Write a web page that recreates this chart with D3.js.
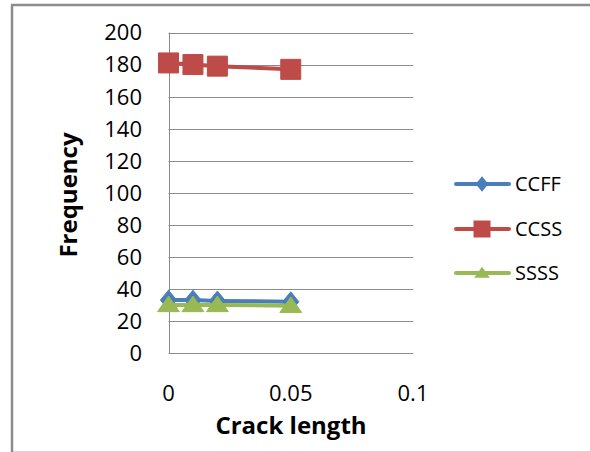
<!DOCTYPE html>
<html>
<head>
<meta charset="utf-8">
<script src="https://cdn.jsdelivr.net/npm/d3@7"></script>
<style>
  html, body { margin: 0; padding: 0; background: #fff; }
  svg { display: block; }
  text { font-family: "Open Sans", "Liberation Sans", sans-serif; fill: #000; }
</style>
</head>
<body>
<svg id="chart" width="590" height="452"></svg>
<script>
// Crack length (x) and natural frequency for three boundary conditions
const crackLength = [0, 0.01, 0.02, 0.05];
const ccff = [33, 33, 32.5, 32];
const ccss = [181, 180, 179, 177];
const ssss = [30, 30, 30, 29.5];

const seriesNames = ["CCFF", "CCSS", "SSSS"];
const seriesValues = [ccff, ccss, ssss];
const seriesColors = ["#4A7EBB", "#BE4B48", "#98B954"];
const seriesShapes = ["diamond", "square", "triangle"];

const yTicks = d3.range(0, 201, 20);
const xTicks = [0, 0.05, 0.1];
const xTickLabels = ["0", "0.05", "0.1"];

const svg = d3.select("#chart");

// outer frame
svg.append("line").attr("x1", 12).attr("y1", 5).attr("x2", 12).attr("y2", 452)
  .attr("stroke", "#8c8c8c").attr("stroke-width", 2.5);
svg.append("line").attr("x1", 11).attr("y1", 5).attr("x2", 590).attr("y2", 5)
  .attr("stroke", "#8c8c8c").attr("stroke-width", 2.5);
svg.append("line").attr("x1", 13).attr("y1", 451.5).attr("x2", 590).attr("y2", 451.5)
  .attr("stroke", "#d4d4d4").attr("stroke-width", 1);

const x = d3.scaleLinear().domain([0, 0.1]).range([168.5, 413]);
const y = d3.scaleLinear().domain([0, 200]).range([353, 32.5]);

// horizontal gridlines
svg.append("g").selectAll("line").data(yTicks).join("line")
  .attr("x1", x(0)).attr("x2", x(0.1))
  .attr("y1", d => Math.round(y(d)) + 0.5).attr("y2", d => Math.round(y(d)) + 0.5)
  .attr("stroke", "#8a8a8a").attr("stroke-width", 1);

// y axis line
svg.append("line").attr("x1", Math.round(x(0)) + 0.5).attr("x2", Math.round(x(0)) + 0.5)
  .attr("y1", y(200)).attr("y2", y(0))
  .attr("stroke", "#8a8a8a").attr("stroke-width", 1);

// y tick labels
svg.append("g").selectAll("text").data(yTicks).join("text")
  .attr("x", 142).attr("y", d => y(d))
  .attr("dy", "0.36em")
  .attr("text-anchor", "end")
  .style("font-size", "22px")
  .text(d => d);

// x tick labels
svg.append("g").selectAll("text").data(xTicks).join("text")
  .attr("x", d => x(d)).attr("y", 401)
  .attr("text-anchor", "middle")
  .style("font-size", "22px")
  .text((d, i) => xTickLabels[i]);

// axis titles
svg.append("text").attr("x", 291).attr("y", 434)
  .attr("text-anchor", "middle")
  .style("font-size", "24px").style("font-weight", "bold")
  .text("Crack length");
svg.append("text")
  .attr("transform", "translate(77,195) rotate(-90)")
  .attr("text-anchor", "middle")
  .style("font-size", "24px").style("font-weight", "bold")
  .text("Frequency");

// marker shapes
function markerPath(shape, s) {
  if (shape === "diamond") return `M0,${-s * 0.55}L${s * 0.45},0L0,${s * 0.55}L${-s * 0.45},0Z`;
  if (shape === "square") return `M${-s / 2},${-s / 2}h${s}v${s}h${-s}Z`;
  return `M0,${-s * 0.42}L${s * 0.52},${s * 0.32}L${-s * 0.52},${s * 0.32}Z`;
}
const markerSize = { diamond: 18, square: 20, triangle: 21 };

const line = d3.line().x((d, i) => x(crackLength[i])).y(d => y(d));

seriesValues.forEach((vals, k) => {
  const g = svg.append("g");
  g.append("path").datum(vals)
    .attr("d", line)
    .attr("fill", "none")
    .attr("stroke", seriesColors[k])
    .attr("stroke-width", 4)
    .attr("stroke-linejoin", "round");
  g.selectAll("path.m").data(vals).join("path")
    .attr("class", "m")
    .attr("transform", (d, i) => `translate(${x(crackLength[i])},${y(d)})`)
    .attr("d", markerPath(seriesShapes[k], markerSize[seriesShapes[k]]))
    .attr("fill", seriesColors[k])
    .attr("stroke", seriesColors[k])
    .attr("stroke-width", 1);
});

// legend
const legendY = [184, 229, 273];
const legendSize = { diamond: 14, square: 17, triangle: 15 };
seriesNames.forEach((name, k) => {
  const g = svg.append("g").attr("transform", `translate(0,${legendY[k]})`);
  g.append("line").attr("x1", 456).attr("x2", 509).attr("y1", 0).attr("y2", 0)
    .attr("stroke", seriesColors[k]).attr("stroke-width", 4).attr("stroke-linecap", "round");
  g.append("path").attr("transform", "translate(482,0)")
    .attr("d", markerPath(seriesShapes[k], legendSize[seriesShapes[k]]))
    .attr("fill", seriesColors[k]);
  g.append("text").attr("x", 515).attr("y", 0).attr("dy", "0.36em")
    .style("font-size", "20px")
    .text(name);
});
</script>
</body>
</html>
